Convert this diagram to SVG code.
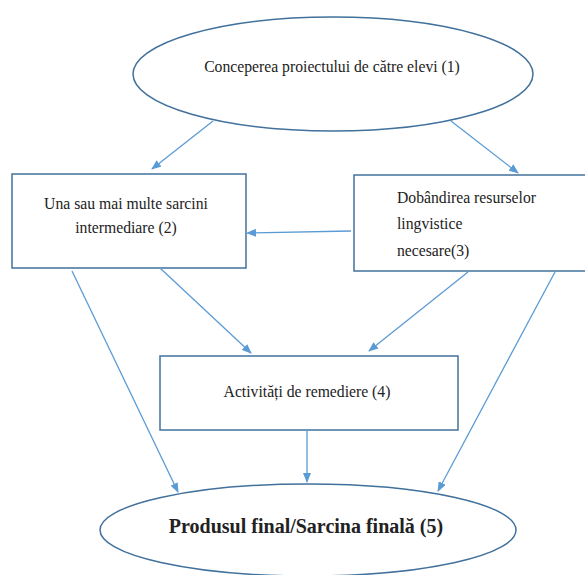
<svg xmlns="http://www.w3.org/2000/svg" width="585" height="575" viewBox="0 0 585 575">
<defs>
<marker id="ah" markerWidth="10" markerHeight="8" refX="9" refY="4" orient="auto" markerUnits="userSpaceOnUse">
<path d="M0,0 L10,4 L0,8 Z" fill="#5B9BD5"/>
</marker>
<style>
.node{fill:#fff;stroke:#41719C;stroke-width:1.5}
.t{font-family:'Liberation Serif','Times New Roman',serif;font-size:15.7px;fill:#222}
.c{text-anchor:middle}
.b{font-weight:bold;font-size:20px}
.e{stroke:#5B9BD5;stroke-width:1.3;fill:none;marker-end:url(#ah)}
</style>
</defs>
<rect width="585" height="575" fill="#fff"/>
<g id="n1">
<ellipse class="node" cx="333" cy="74" rx="200" ry="57"/>
<text class="t c" x="332" y="72" font-family="Liberation Serif, serif">Conceperea proiectului de către elevi (1)</text>
</g>
<g id="n2">
<rect class="node" x="12" y="174" width="234" height="94"/>
<text class="t c" x="126" y="209" font-family="Liberation Serif, serif">Una sau mai multe sarcini</text>
<text class="t c" x="126" y="233" font-family="Liberation Serif, serif">intermediare (2)</text>
</g>
<g id="n3">
<rect class="node" x="354" y="175" width="240" height="96"/>
<text class="t" x="397" y="203" font-family="Liberation Serif, serif">Dobândirea resurselor</text>
<text class="t" x="397" y="229" font-family="Liberation Serif, serif">lingvistice</text>
<text class="t" x="397" y="256" font-family="Liberation Serif, serif">necesare(3)</text>
</g>
<g id="n4">
<rect class="node" x="160" y="356" width="298" height="74"/>
<text class="t c" x="307" y="397" font-family="Liberation Serif, serif">Activități de remediere (4)</text>
</g>
<g id="n5">
<ellipse class="node" cx="308" cy="530" rx="208" ry="46"/>
<text class="t c b" x="306" y="533" font-family="Liberation Serif, serif">Produsul final/Sarcina finală (5)</text>
</g>
<g id="connectors">
<line class="e" x1="213" y1="121" x2="152" y2="169"/>
<line class="e" x1="451" y1="121" x2="518" y2="173"/>
<line class="e" x1="351" y1="231" x2="247" y2="233"/>
<line class="e" x1="160" y1="268" x2="251" y2="353"/>
<line class="e" x1="468" y1="272" x2="369" y2="351"/>
<line class="e" x1="72" y1="271" x2="178" y2="492"/>
<line class="e" x1="555" y1="272" x2="438" y2="491"/>
<line class="e" x1="307" y1="430" x2="307" y2="482"/>
</g>
</svg>
